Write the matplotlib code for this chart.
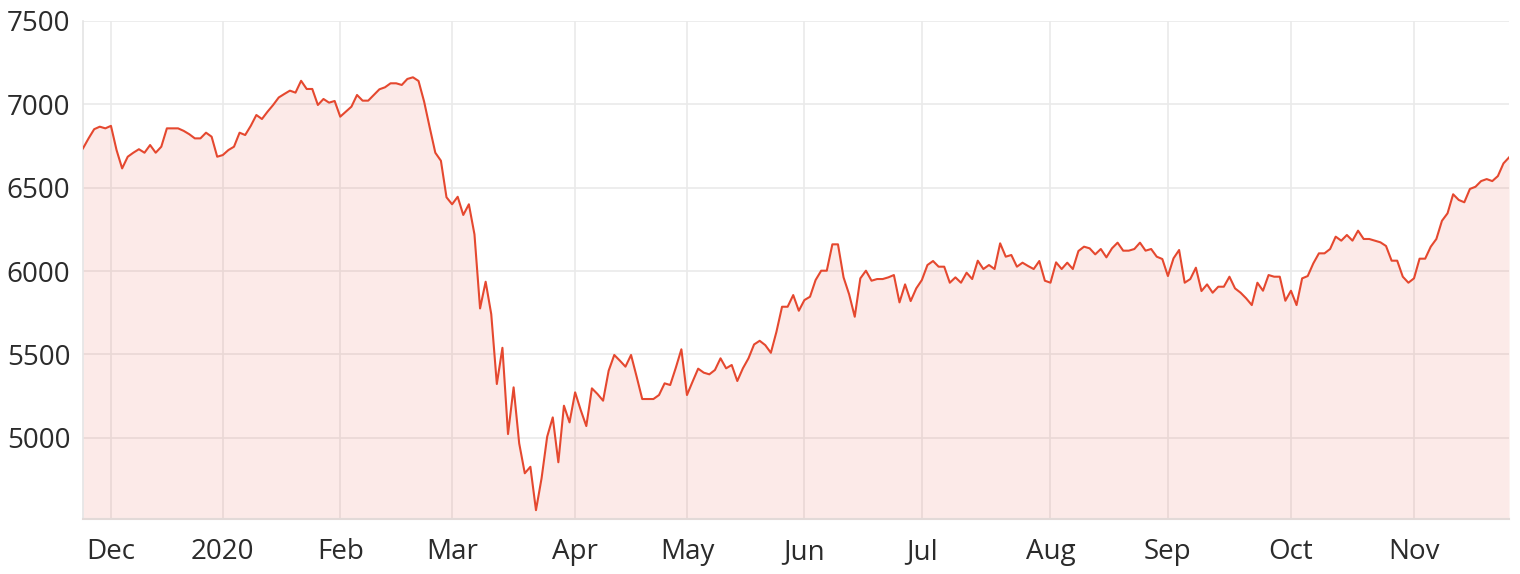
import numpy as np
import pandas as pd
import matplotlib
matplotlib.use("Agg")
import matplotlib.pyplot as plt

# Trading calendar (weekdays minus market holidays)
START = "2019-11-25"
END = "2020-11-25"
HOLIDAYS = ["2019-12-25", "2019-12-26", "2020-01-01", "2020-01-27",
            "2020-04-10", "2020-04-13", "2020-06-08"]

# Daily closes
close = [
    6735, 6795, 6850, 6865, 6855, 6870, 6725, 6615, 6685, 6709,
    6730, 6709, 6755, 6709, 6745, 6855, 6855, 6855, 6840, 6820,
    6795, 6795, 6829, 6805, 6685, 6695, 6725, 6745, 6829, 6815,
    6870, 6935, 6911, 6955, 6995, 7040, 7061, 7081, 7069, 7140,
    7091, 7091, 6995, 7031, 7009, 7019, 6925, 6955, 6985, 7055,
    7021, 7021, 7055, 7089, 7101, 7125, 7125, 7115, 7151, 7161,
    7139, 7015, 6860, 6709, 6661, 6442, 6400, 6445, 6336, 6400,
    6220, 5776, 5936, 5742, 5323, 5540, 5023, 5303, 4967, 4788,
    4827, 4567, 4758, 5007, 5123, 4854, 5193, 5093, 5273, 5167,
    5071, 5297, 5263, 5223, 5403, 5497, 5463, 5427, 5497, 5367,
    5233, 5233, 5233, 5257, 5327, 5317, 5420, 5531, 5257, 5337,
    5415, 5391, 5381, 5407, 5477, 5417, 5437, 5341, 5417, 5477,
    5560, 5582, 5556, 5510, 5636, 5786, 5786, 5856, 5762, 5826,
    5846, 5946, 6002, 6002, 6160, 6160, 5962, 5860, 5726, 5956,
    6002, 5942, 5952, 5952, 5962, 5976, 5812, 5920, 5820, 5896,
    5946, 6036, 6060, 6026, 6026, 5930, 5962, 5930, 5990, 5952,
    6062, 6012, 6036, 6012, 6166, 6086, 6096, 6026, 6050, 6030,
    6012, 6060, 5942, 5930, 6052, 6012, 6050, 6012, 6120, 6146,
    6136, 6100, 6132, 6082, 6136, 6170, 6122, 6122, 6132, 6170,
    6122, 6132, 6086, 6072, 5970, 6076, 6126, 5930, 5952, 6020,
    5880, 5920, 5870, 5906, 5906, 5966, 5896, 5870, 5836, 5796,
    5930, 5882, 5976, 5966, 5966, 5822, 5882, 5796, 5956, 5970,
    6046, 6106, 6106, 6132, 6206, 6182, 6216, 6182, 6242, 6192,
    6192, 6182, 6172, 6150, 6062, 6062, 5966, 5930, 5956, 6074,
    6074, 6146, 6192, 6301, 6346, 6460, 6426, 6412, 6492, 6505,
    6539, 6551, 6539, 6569, 6645, 6681,
]

y_ticks = [5000, 5500, 6000, 6500, 7000, 7500]
y_min, y_max = 4514, 7500

LINE = "#E5482F"
TEXT = "#2B2B2B"
GRID = "#EAEAEA"

days = pd.bdate_range(START, END, freq="C", holidays=HOLIDAYS)
assert len(days) == len(close)

x = np.arange(len(close))
first_of_month = np.flatnonzero(np.r_[False, days.month[1:] != days.month[:-1]])
month_labels = [d.strftime("%Y") if d.month == 1 else d.strftime("%b")
                for d in days[first_of_month]]

plt.rcParams["font.family"] = ["Open Sans", "DejaVu Sans"]

fig, ax = plt.subplots(figsize=(15.2, 5.74), dpi=100)
fig.subplots_adjust(left=0.0546, right=0.9928, top=0.9639, bottom=0.0958)

ax.plot(x, close, color=LINE, lw=1.5, zorder=3)
ax.fill_between(x, close, y_min, color=LINE, alpha=0.11, lw=0, zorder=2)

ax.set_xlim(0, len(close) - 1)
ax.set_ylim(y_min, y_max)
ax.set_xticks(first_of_month)
ax.set_xticklabels(month_labels)
ax.set_yticks(y_ticks)
ax.set_yticklabels([str(v) for v in y_ticks])

ax.set_axisbelow(True)
ax.grid(True, color=GRID, lw=1.2)
ax.tick_params(axis="both", length=0, labelsize=20, colors=TEXT)
ax.tick_params(axis="x", pad=14)
ax.tick_params(axis="y", pad=9)

for side in ["top", "right"]:
    ax.spines[side].set_visible(False)
ax.spines["left"].set_color("#E4E4E4")
ax.spines["left"].set_linewidth(1.2)
ax.spines["bottom"].set_color("#E2DAD8")
ax.spines["bottom"].set_linewidth(1.5)

fig.savefig("out.png", dpi=100)
